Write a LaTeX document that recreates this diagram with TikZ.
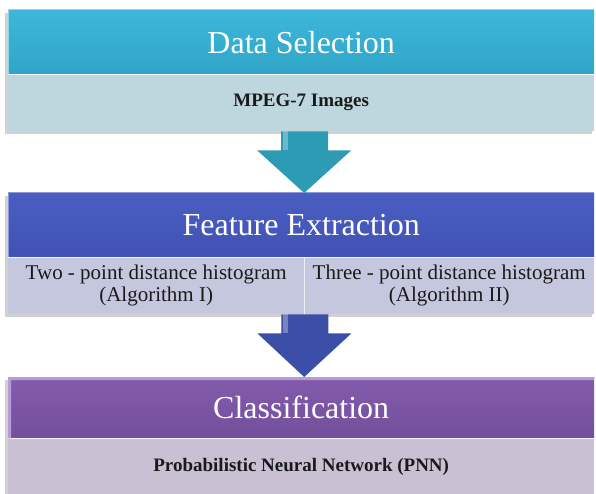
\documentclass[tikz,border=0pt]{standalone}
\usepackage{fontspec}
\setmainfont{Liberation Serif}
\usetikzlibrary{calc}
\definecolor{cyanTop}{HTML}{3CB7DA}
\definecolor{cyanBot}{HTML}{31A5C8}
\definecolor{cyanLt}{HTML}{8FD6EA}
\definecolor{cyanSub}{HTML}{BED7DE}
\definecolor{cyanArr}{HTML}{2E9BB5}
\definecolor{blueTop}{HTML}{4A5DC3}
\definecolor{blueBot}{HTML}{4053B3}
\definecolor{blueLt}{HTML}{8C97DC}
\definecolor{blueSub}{HTML}{C5C7DE}
\definecolor{blueArr}{HTML}{3B4EA8}
\definecolor{purTop}{HTML}{845BAC}
\definecolor{purBot}{HTML}{724F9B}
\definecolor{purLt}{HTML}{B79AD6}
\definecolor{purSub}{HTML}{C9C0D4}
\definecolor{txt}{HTML}{1A1A1A}
\begin{document}
\begin{tikzpicture}[x=1pt,y=-1pt,
  hdr/.style={draw=none, anchor=north west, inner sep=0pt, minimum width=586pt, minimum height=64pt,
    text=white, font=\fontsize{32}{34}\selectfont},
  subbox/.style={draw=none, anchor=north west, inner sep=0pt, align=center, text=txt},
  subfont/.style={font=\bfseries\fontsize{19}{22}\selectfont},
  algfont/.style={font=\fontsize{21}{22}\selectfont},
  shad/.style={fill=black, opacity=0.18},
  sep/.style={draw=white, line width=1.2pt, opacity=0.8},
]
\useasboundingbox (0,0) rectangle (596,494);

% ---- group 1: Data Selection ----
\fill[shad] (5,13) rectangle (592,134);
\node[hdr, top color=cyanTop, bottom color=cyanBot] (ds) at (8,10) {Data Selection};
\node[subbox, subfont, fill=cyanSub, minimum width=586pt, minimum height=57pt] (mpeg) at (8,74) {MPEG-7 Images};
\draw[sep] (ds.south west) -- (ds.south east);
\draw[cyanLt, line width=1pt] (ds.north west) -- (ds.north east);
\draw[cyanLt, line width=1pt] (ds.north west) -- (ds.south west);

% ---- group 2: Feature Extraction ----
\fill[shad] (5,196) rectangle (592,317);
\node[hdr, top color=blueTop, bottom color=blueBot] (fe) at (8,193) {Feature Extraction};
\node[subbox, algfont, fill=blueSub, minimum width=296pt, minimum height=57pt] (two) at (8,257)
  {Two - point distance histogram\\(Algorithm I)};
\node[subbox, algfont, fill=blueSub, minimum width=290pt, minimum height=57pt] (three) at (304,257)
  {Three - point distance histogram\\(Algorithm II)};
\draw[sep] (fe.south west) -- (fe.south east);
\draw[draw=white, line width=1pt, opacity=0.7] (two.north east) -- (two.south east);
\draw[blueLt, line width=1pt] (fe.north west) -- (fe.north east);
\draw[blueLt, line width=1pt] (fe.north west) -- (fe.south west);

% ---- group 3: Classification ----
\fill[shad] (5,380) rectangle (592,500);
\node[hdr, top color=purTop, bottom color=purBot, minimum height=61pt] (cl) at (8,377) {Classification};
\node[subbox, subfont, fill=purSub, minimum width=586pt, minimum height=58pt] (pnn) at (8,438)
  {Probabilistic Neural Network (PNN)};
\draw[sep] (cl.south west) -- (cl.south east);
\fill[purLt] (cl.north west) -- (cl.north east) -- ([yshift=-3pt]cl.north east) -- ([xshift=3pt,yshift=-3pt]cl.north west) -- ([xshift=3pt]cl.south west) -- (cl.south west) -- cycle;

% ---- arrows ----
\coordinate (a1) at ($(mpeg.south)+(3,0)$);
\fill[cyanArr] ($(a1)+(-23,0)$) -- ($(a1)+(24,0)$) -- ($(a1)+(24,19)$) -- ($(a1)+(47,19)$)
  -- ($(fe.north)+(3,0)$) -- ($(a1)+(-47,19)$) -- ($(a1)+(-23,19)$) -- cycle;
\fill[white, opacity=0.3] ($(a1)+(-21,0)$) rectangle ($(a1)+(-16,19)$);

\coordinate (a2) at ($(two.south east)+(0,0)$);
\fill[blueArr] ($(a2)+(-23,0)$) -- ($(a2)+(24,0)$) -- ($(a2)+(24,19)$) -- ($(a2)+(47,19)$)
  -- ($(cl.north)+(3,0)$) -- ($(a2)+(-47,19)$) -- ($(a2)+(-23,19)$) -- cycle;
\fill[white, opacity=0.3] ($(a2)+(-21,0)$) rectangle ($(a2)+(-16,19)$);
\end{tikzpicture}
\end{document}
